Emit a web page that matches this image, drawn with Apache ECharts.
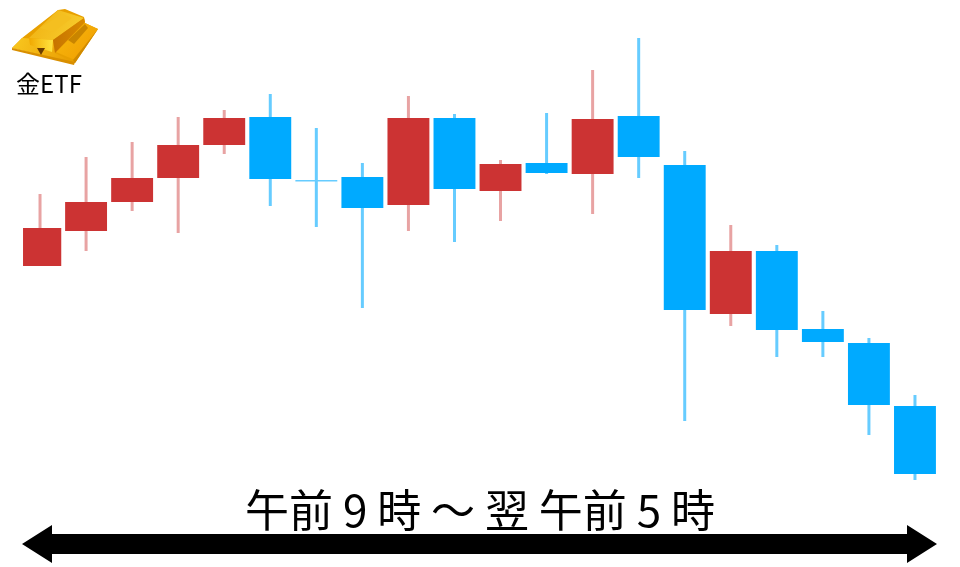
<!DOCTYPE html>
<html><head><meta charset="utf-8">
<style>html,body{margin:0;padding:0;background:#fff}#c{width:960px;height:567px}</style>
<script src="https://cdn.jsdelivr.net/npm/echarts@6/dist/echarts.min.js"></script>
</head><body><div id="c"></div>
<script>
var categories = ['1','2','3','4','5','6','7','8','9','10','11','12','13','14','15','16','17','18','19','20'];
// price scale reads upward: open, close, low, high
var opens  = [301,336,365,389,422,450,387,390,362,449,376,404,393,451,402,253,316,238,224,161];
var closes = [339,365,389,422,449,388,386,359,449,378,403,394,448,410,257,316,237,225,162,93];
var lows   = [301,316,356,334,413,361,340,259,336,325,346,393,353,389,146,241,210,210,132,87];
var highs  = [373,410,425,450,457,473,439,404,471,453,407,454,497,529,416,342,322,256,229,172];
var UP='#cc3333', DOWN='#00aaff', UP_WICK='#e8a3a3', DOWN_WICK='#66ccff';
var rows = categories.map(function(c,i){return [i,opens[i],closes[i],lows[i],highs[i]];});
var chart = echarts.init(document.getElementById('c'),null,{renderer:'canvas'});
function grad(x,y,x2,y2,a,b){return new echarts.graphic.LinearGradient(x,y,x2,y2,[{offset:0,color:a},{offset:1,color:b}]);}
function poly(points,fill,z){return {type:'polygon',z:z||10,shape:{points:points},style:{fill:fill}};}
chart.setOption({
  animation:false,
  backgroundColor:'#fff',
  grid:{left:17,right:22,top:0,bottom:0},
  xAxis:{type:'category',data:categories,show:false},
  yAxis:{type:'value',min:0,max:567,show:false},
  series:[{
    type:'custom',
    data:rows,
    encode:{x:0,y:[1,2,3,4]},
    clip:false,
    renderItem:function(params,api){
      var i=api.value(0),o=api.value(1),c=api.value(2),l=api.value(3),h=api.value(4);
      var up=c>=o, col=up?UP:DOWN, wick=up?UP_WICK:DOWN_WICK;
      var x=api.coord([i,o])[0];
      var yO=api.coord([i,o])[1],yC=api.coord([i,c])[1],yL=api.coord([i,l])[1],yH=api.coord([i,h])[1];
      var w=api.size([1,0])[0]*(i===0?0.83:0.91);
      var left=i===0?x-17:x-w/2;
      var top=Math.min(yO,yC),bh=Math.abs(yO-yC);
      return {type:'group',children:[
        {type:'rect',shape:{x:x-1.5,y:yH,width:3,height:yL-yH},style:{fill:wick}},
        {type:'rect',shape:{x:left,y:top,width:w,height:Math.max(bh,1.5)},style:{fill:bh<2?wick:col}}
      ]};
    }
  }],
  graphic:[
    poly([[12,48],[22,38],[58,10],[65,9],[84,17],[85,23],[98,29],[75,63]],'#e8a000'),
    poly([[12,48],[22,38],[53,40],[55,53],[75,63]],grad(0,0,1,1,'#f9c820','#e89a00'),11),
    poly([[12,48],[75,62],[74,65],[12,50]],'#d98f00',12),
    poly([[29,38],[58,10],[84,18],[53,40]],grad(0,0,1,1,'#f0b010','#f8cf30'),12),
    poly([[40,28],[62,14],[72,18],[53,32]],'#f4bf20',13),
    poly([[29,38],[53,40],[52,52],[30,45]],grad(0,0,1,0,'#f0a800','#ffe440'),13),
    poly([[53,40],[84,18],[85,22],[55,53]],grad(0,0,1,0,'#c77400','#d98a00'),13),
    poly([[56,52],[85,23],[98,29],[75,60]],grad(0,0,1,1,'#f7b90e','#f09c00'),11),
    poly([[68,40],[85,24],[88,28],[74,44]],'#c98500',12),
    poly([[98,29],[75,63],[73,60]],'#d08a00',12),
    poly([[37,48],[45,48],[41,55]],'#6b3c00',14),
    {type:'text',z:20,style:{text:'金ETF',x:49,y:84,align:'center',verticalAlign:'middle',fill:'#000',font:'24px "Noto Sans CJK JP"'}},
    {type:'text',z:20,style:{text:'午前 9 時 ～ 翌 午前 5 時',x:480,y:510,align:'center',verticalAlign:'middle',fill:'#000',font:'400 44px "Noto Sans CJK JP"'}},
    poly([[22,544],[52,525],[52,534],[907,534],[907,525],[937,544],[907,563],[907,554],[52,554],[52,563]],'#000',15)
  ]
});
</script></body></html>
